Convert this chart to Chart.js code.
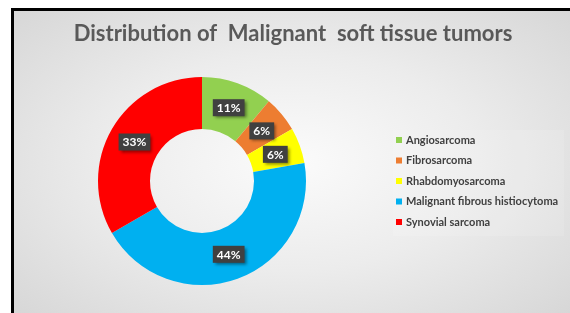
<!DOCTYPE html>
<html>
<head>
<meta charset="utf-8">
<script src="https://cdn.jsdelivr.net/npm/chart.js@4.4.0/dist/chart.umd.min.js"></script>
<style>
  html, body { margin:0; padding:0; background:#fff; width:570px; height:313px; overflow:hidden; }
  #frame { position:absolute; left:11px; top:8px; width:556px; height:302px;
    border-top:3px solid #000; border-left:3px solid #000;
    background: radial-gradient(ellipse 75% 80% at 50% 50%, #fbfbfb 0%, #ececec 45%, #d3d3d3 100%); }
  #wrap { position:absolute; left:0; top:0; width:570px; height:313px; }
</style>
</head>
<body>
<div id="frame"></div>
<div id="wrap"><canvas id="c" width="570" height="313"></canvas></div>
<script>
const categories = ['Angiosarcoma', 'Fibrosarcoma', 'Rhabdomyosarcoma', 'Malignant fibrous histiocytoma', 'Synovial sarcoma'];
const counts = [2, 1, 1, 8, 6];
const colors = ['#92D050', '#ED7D31', '#FFFF00', '#00B0F0', '#FF0000'];
const titleText = 'Distribution of  Malignant  soft tissue tumors';

const FONT = 'Lato, "Open Sans", sans-serif';

const labelPlugin = {
  id: 'boxLabels',
  afterDatasetsDraw(chart) {
    const ctx = chart.ctx;
    const meta = chart.getDatasetMeta(0);
    const data = chart.data.datasets[0].data;
    const total = data.reduce((a, b) => a + b, 0);
    ctx.save();
    ctx.font = 'bold 12px ' + FONT;
    ctx.textAlign = 'center';
    ctx.textBaseline = 'middle';
    meta.data.forEach((arc, i) => {
      const p = arc.tooltipPosition();
      const txt = Math.round(data[i] / total * 100) + '%';
      const w = ctx.measureText(txt).width + 8;
      const h = 17;
      ctx.save();
      ctx.shadowColor = 'rgba(0,0,0,0.45)';
      ctx.shadowBlur = 3;
      ctx.shadowOffsetX = 2;
      ctx.shadowOffsetY = 2;
      ctx.fillStyle = '#404040';
      ctx.fillRect(p.x - w / 2, p.y - h / 2, w, h);
      ctx.restore();
      ctx.fillStyle = '#ffffff';
      ctx.fillText(txt, p.x, p.y + 0.5);
    });
    ctx.restore();
  }
};

const sidePlugin = {
  id: 'sideLegendAndTitle',
  afterDraw(chart) {
    const ctx = chart.ctx;
    const labels = chart.data.labels;
    const bg = chart.data.datasets[0].backgroundColor;
    ctx.save();
    // title
    ctx.font = 'bold 22px ' + FONT;
    ctx.fillStyle = '#595959';
    ctx.textAlign = 'center';
    ctx.textBaseline = 'middle';
    ctx.fillText(titleText, 293, 34);
    // legend
    ctx.fillStyle = 'rgba(255,255,255,0.12)';
    ctx.fillRect(393, 130, 171, 106);
    ctx.font = 'bold 11px ' + FONT;
    ctx.textBaseline = 'middle';
    ctx.textAlign = 'left';
    labels.forEach((l, i) => {
      const y = 140 + i * 20.5;
      ctx.fillStyle = bg[i];
      ctx.fillRect(396, y - 3, 6, 6);
      ctx.fillStyle = '#404040';
      ctx.fillText(l, 406, y);
    });
    ctx.restore();
  }
};

new Chart(document.getElementById('c'), {
  type: 'doughnut',
  data: {
    labels: categories,
    datasets: [{ data: counts, backgroundColor: colors, borderWidth: 0 }]
  },
  options: {
    responsive: false,
    animation: false,
    cutout: '50%',
    layout: { padding: { top: 77, bottom: 28, left: 98, right: 264 } },
    plugins: {
      legend: { display: false },
      tooltip: { enabled: false },
      title: { display: false }
    }
  },
  plugins: [labelPlugin, sidePlugin]
});
</script>
</body>
</html>
